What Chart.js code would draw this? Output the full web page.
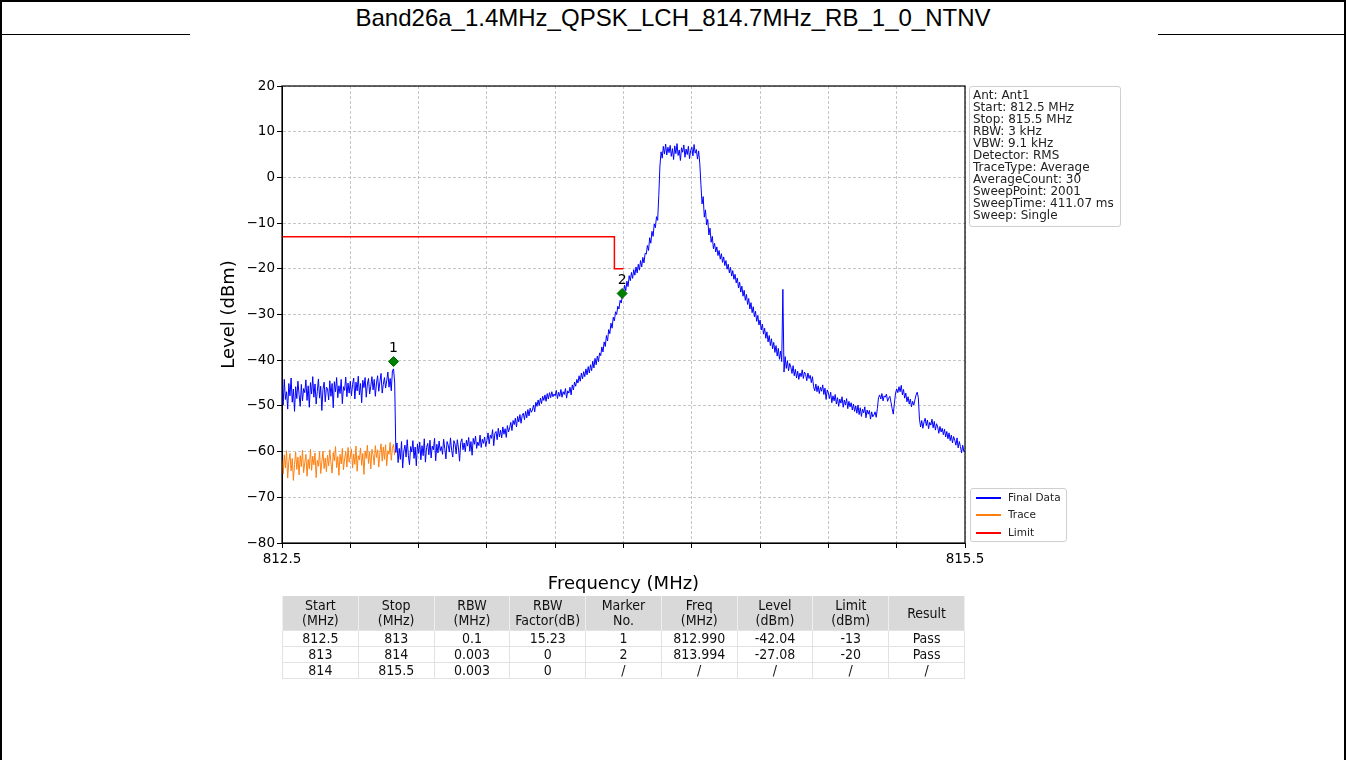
<!DOCTYPE html>
<html>
<head>
<meta charset="utf-8">
<title>Band26a spectrum</title>
<script src="https://cdn.jsdelivr.net/npm/chart.js@4.4.1/dist/chart.umd.min.js"></script>
<style>
  html, body { margin: 0; padding: 0; background: #fff; }
  #page { position: relative; width: 1346px; height: 760px; overflow: hidden; font-family: "Liberation Sans", Arial, sans-serif; }
  #frame { position: absolute; left: 0; top: 0; width: 1346px; height: 770px; box-sizing: border-box; border: 2px solid #000; }
  #title { position: absolute; left: 0; top: 2px; width: 1346px; height: 32px; line-height: 32px; text-align: center; font-size: 24px; color: #000; }
  .rule { position: absolute; top: 34px; height: 1px; background: #000; }
  #chart { position: absolute; left: 0; top: 0; }
  #info { position: absolute; left: 969px; top: 86px; width: 152px; height: 141px; box-sizing: border-box; border: 1px solid #cfcfcf; border-radius: 3px;
          padding: 2px 0 0 3px; font-family: "DejaVu Sans", sans-serif; font-size: 12px; line-height: 12px; color: #222; white-space: nowrap; }
  #legend { position: absolute; left: 970px; top: 488px; width: 97px; height: 54px; box-sizing: border-box; border: 1px solid #cfcfcf; border-radius: 3px;
            font-family: "DejaVu Sans", sans-serif; font-size: 10.5px; color: #222; }
  #legend div { position: absolute; left: 37px; height: 14px; line-height: 14px; white-space: nowrap; }
  #legend span { position: absolute; left: -32px; top: 7px; width: 25px; height: 1.5px; }
  #tbl { position: absolute; left: 282px; top: 596px; width: 683px; border-collapse: collapse; table-layout: fixed;
         font-family: "Liberation Sans Narrow", "DejaVu Sans Condensed", sans-serif; font-size: 14px; color: #111; }
  #tbl th { background: #d9d9d9; font-weight: normal; height: 34px; line-height: 15px; padding: 0; border-left: 1px solid #efefef; border-right: 1px solid #efefef; }
  #tbl td { height: 15px; line-height: 15px; padding: 0; text-align: center; border: 1px solid #e2e2e2; }
</style>
</head>
<body>
<div id="page">
  <div id="frame"></div>
  <div id="title">Band26a_1.4MHz_QPSK_LCH_814.7MHz_RB_1_0_NTNV</div>
  <div class="rule" style="left:0;width:190px"></div>
  <div class="rule" style="left:1158px;width:188px"></div>
  <canvas id="chart" width="1346" height="600"></canvas>
  <div id="info">Ant: Ant1<br>Start: 812.5 MHz<br>Stop: 815.5 MHz<br>RBW: 3 kHz<br>VBW: 9.1 kHz<br>Detector: RMS<br>TraceType: Average<br>AverageCount: 30<br>SweepPoint: 2001<br>SweepTime: 411.07 ms<br>Sweep: Single</div>
  <div id="legend">
    <div style="top:1px"><span style="background:#0000ff"></span>Final Data</div>
    <div style="top:18px"><span style="background:#ff7f0e"></span>Trace</div>
    <div style="top:36px"><span style="background:#ff0000"></span>Limit</div>
  </div>
  <table id="tbl">
    <colgroup><col><col><col><col><col><col><col><col><col></colgroup>
    <tr><th>Start<br>(MHz)</th><th>Stop<br>(MHz)</th><th>RBW<br>(MHz)</th><th>RBW<br>Factor(dB)</th><th>Marker<br>No.</th><th>Freq<br>(MHz)</th><th>Level<br>(dBm)</th><th>Limit<br>(dBm)</th><th>Result</th></tr>
    <tr><td>812.5</td><td>813</td><td>0.1</td><td>15.23</td><td>1</td><td>812.990</td><td>-42.04</td><td>-13</td><td>Pass</td></tr>
    <tr><td>813</td><td>814</td><td>0.003</td><td>0</td><td>2</td><td>813.994</td><td>-27.08</td><td>-20</td><td>Pass</td></tr>
    <tr><td>814</td><td>815.5</td><td>0.003</td><td>0</td><td>/</td><td>/</td><td>/</td><td>/</td><td>/</td></tr>
  </table>
</div>
<script>
// sweep span (MHz)
const sweepStart = 812.5;
const sweepStop = 815.5;

// Final Data, one row per 0.1 MHz, 0.005 MHz apart
const finalLevels = [
  -45.5,-49.8,-44.2,-48.6,-46.9,-50.7,-45.1,-47.8,-43.9,-49.2,-46.3,-51.2,-45.8,-48.4,-44.6,-47.5,-50.1,-45.3,-48.9,-46.2,
  -47.1,-44.3,-48.8,-45.6,-50.3,-44.9,-47.4,-43.6,-48.1,-45.2,-49.6,-46.8,-44.1,-48.3,-45.7,-51.0,-46.4,-44.8,-49.1,-45.9,
  -46.2,-48.7,-44.5,-47.9,-45.1,-50.4,-44.7,-46.9,-43.8,-48.2,-45.6,-47.3,-44.2,-49.5,-45.8,-46.6,-43.7,-48.0,-45.0,-47.2,
  -44.6,-47.8,-45.3,-43.9,-48.5,-44.8,-46.7,-43.5,-47.6,-45.1,-49.3,-44.4,-46.0,-43.8,-48.1,-45.2,-44.0,-47.4,-45.7,-43.6,
  -46.5,-44.2,-47.9,-45.0,-43.4,-46.8,-44.7,-42.9,-47.2,-45.3,-43.8,-46.1,-44.5,-42.6,-45.9,-44.0,-46.7,-42.3,-41.9,-45.0,
  -60.2,-58.1,-62.4,-59.3,-61.7,-57.8,-63.6,-59.9,-58.6,-61.2,-57.4,-60.8,-62.9,-58.9,-60.1,-57.6,-61.5,-59.0,-63.1,-58.3,
  -60.4,-57.9,-61.8,-58.7,-60.9,-57.2,-62.3,-59.1,-58.2,-60.7,-57.5,-61.4,-58.8,-59.6,-57.1,-62.0,-58.4,-60.3,-57.7,-59.8,
  -58.9,-60.6,-57.3,-59.4,-61.6,-57.8,-58.6,-60.1,-57.0,-59.7,-61.2,-57.6,-58.3,-60.5,-57.4,-59.2,-62.1,-58.0,-57.2,-59.6,
  -58.1,-60.0,-57.5,-58.8,-56.9,-59.9,-57.8,-60.8,-57.1,-58.4,-56.6,-59.3,-57.9,-58.7,-56.4,-59.1,-57.3,-58.2,-56.8,-58.9,
  -57.6,-55.9,-58.3,-56.4,-57.1,-55.2,-58.7,-56.0,-55.6,-57.4,-54.9,-56.8,-55.3,-57.0,-54.6,-56.2,-55.0,-56.9,-54.3,-55.7,
  -54.8,-53.6,-55.4,-53.2,-54.1,-52.7,-54.6,-52.3,-53.5,-51.9,-53.8,-52.1,-51.6,-53.0,-51.2,-52.6,-50.8,-52.2,-50.5,-51.4,
  -50.9,-49.8,-51.3,-49.2,-50.1,-48.7,-49.9,-48.3,-49.5,-47.9,-48.8,-47.6,-49.0,-47.3,-48.5,-47.1,-48.2,-46.9,-48.0,-47.4,
  -47.8,-46.6,-48.4,-47.0,-47.9,-46.4,-48.1,-46.9,-47.5,-46.2,-48.3,-46.7,-47.2,-45.9,-47.6,-45.4,-46.5,-44.8,-45.7,-44.2,
  -45.0,-43.4,-44.6,-42.8,-44.1,-42.5,-43.6,-41.9,-43.2,-41.4,-42.8,-41.0,-42.3,-40.2,-41.7,-39.6,-41.0,-39.1,-40.3,-38.4,
  -39.0,-37.1,-38.2,-36.0,-37.0,-34.6,-35.8,-33.3,-34.2,-31.9,-33.0,-30.6,-31.4,-29.4,-30.0,-28.2,-28.8,-26.9,-27.5,-25.9,
  -25.3,-23.6,-24.8,-22.7,-23.9,-21.5,-22.6,-20.8,-22.1,-20.2,-21.4,-19.6,-20.9,-19.0,-20.3,-18.2,-19.6,-17.5,-18.7,-16.6,
  -16.8,-14.9,-16.0,-13.2,-14.4,-11.8,-12.9,-10.2,-11.0,-8.6,-9.4,-4.0,2.5,5.6,4.2,6.8,5.1,7.3,4.9,6.6,
  5.4,7.0,4.6,6.3,3.9,6.9,5.2,7.4,4.8,6.0,3.7,6.5,5.5,7.1,4.4,6.2,5.0,6.8,4.1,5.9,
  6.6,4.7,7.2,5.3,6.1,4.0,5.8,3.1,-1.5,-5.8,-4.2,-8.7,-7.1,-10.4,-9.2,-12.6,-11.1,-14.2,-12.9,-15.6,
  -14.4,-16.3,-15.2,-17.1,-16.0,-17.9,-16.7,-18.6,-17.4,-19.3,-18.2,-20.1,-19.0,-20.9,-19.7,-21.6,-20.4,-22.3,-21.2,-23.1,
  -22.0,-24.2,-22.9,-25.1,-23.8,-26.0,-24.7,-26.9,-25.6,-27.8,-26.5,-28.8,-27.4,-29.6,-28.3,-30.5,-29.3,-31.5,-30.2,-32.3,
  -31.2,-33.4,-32.1,-34.3,-33.0,-35.2,-33.8,-36.0,-34.6,-36.8,-35.3,-37.5,-36.1,-38.3,-36.8,-39.1,-37.4,-39.8,-38.0,-40.3,
  -24.5,-42.6,-39.2,-41.8,-40.1,-42.3,-40.7,-41.5,-42.9,-41.2,-43.4,-42.0,-43.9,-42.4,-44.2,-42.8,-43.6,-42.1,-44.0,-42.6,
  -43.1,-44.5,-42.8,-44.0,-43.3,-44.9,-43.6,-45.8,-46.7,-45.2,-46.9,-45.6,-47.3,-45.9,-46.8,-45.4,-47.5,-46.1,-48.6,-46.5,
  -47.2,-48.4,-47.0,-49.3,-47.8,-48.9,-47.5,-49.6,-48.2,-50.1,-48.5,-49.4,-48.0,-50.3,-48.7,-49.8,-48.4,-50.6,-49.0,-50.2,
  -49.3,-50.9,-49.6,-51.2,-50.0,-51.6,-49.8,-51.9,-50.4,-52.3,-50.7,-51.5,-50.2,-52.6,-50.9,-51.8,-51.0,-52.9,-51.3,-52.4,
  -52.0,-51.3,-52.5,-50.6,-48.2,-47.6,-48.5,-47.3,-48.9,-47.8,-48.1,-47.4,-49.0,-48.3,-47.9,-49.2,-50.6,-51.8,-49.4,-47.2,
  -46.3,-47.1,-45.8,-46.9,-45.5,-47.6,-46.4,-48.3,-47.2,-49.1,-48.0,-49.6,-48.5,-50.2,-49.0,-49.8,-48.7,-47.6,-47.0,-48.2,
  -52.9,-54.6,-53.2,-54.9,-53.5,-52.7,-54.3,-53.1,-55.0,-53.6,-54.2,-52.9,-54.8,-53.4,-55.3,-53.9,-54.6,-56.0,-54.5,-55.7,
  -54.9,-56.3,-55.1,-56.8,-55.6,-57.2,-55.9,-57.6,-56.4,-58.1,-56.7,-57.5,-58.6,-57.0,-59.2,-57.8,-58.9,-60.3,-58.6,-60.0,
  -59.8
];

// Trace (RBW 0.1 MHz segment), 812.5 .. 812.995
const traceLevels = [
  -61.8,-64.9,-60.7,-63.6,-59.8,-65.8,-62.1,-60.4,-64.2,-61.5,-66.3,-62.8,-60.1,-63.9,-61.2,-65.1,-60.9,-63.3,-59.7,-64.6,
  -62.4,-60.6,-65.4,-61.7,-63.8,-59.5,-64.1,-61.0,-62.9,-60.3,-65.7,-61.9,-63.2,-60.0,-64.8,-62.2,-59.9,-63.7,-61.4,-64.4,
  -60.8,-63.1,-59.6,-62.5,-64.7,-60.2,-62.0,-58.9,-63.5,-61.1,-65.2,-60.6,-62.7,-59.3,-64.0,-61.6,-60.0,-63.4,-59.1,-62.3,
  -61.0,-59.4,-63.6,-60.5,-62.8,-58.8,-64.3,-60.9,-61.8,-59.2,-63.0,-60.4,-65.0,-59.9,-61.5,-58.6,-62.6,-60.1,-63.8,-59.5,
  -60.7,-62.9,-58.7,-61.3,-59.6,-63.4,-60.2,-58.3,-62.1,-59.0,-61.7,-58.5,-63.1,-59.8,-60.6,-58.0,-61.9,-59.3,-58.4,-60.8
];

// limit line
const limitFreqs = [812.5, 813.96, 813.96, 814.0];
const limitLevels = [-13, -13, -20, -20];

// markers as drawn on the plot
const markerFreqs = [812.990, 813.994];
const markerLevels = [-40.3, -25.4];
const markerNames = ['1', '2'];

// ticks
const xTickValues = [812.5, 812.8, 813.1, 813.4, 813.7, 814.0, 814.3, 814.6, 814.9, 815.2, 815.5];
const yTickValues = [-80, -70, -60, -50, -40, -30, -20, -10, 0, 10, 20];

const step = (sweepStop - sweepStart) / (finalLevels.length - 1);
const toPoints = (levels) => levels.map((v, i) => ({ x: sweepStart + i * step, y: v }));

Chart.defaults.font.family = '"DejaVu Sans", sans-serif';
Chart.defaults.color = '#000';

// box round the plot + marker numbers
const frameAndLabels = {
  id: 'frameAndLabels',
  afterDatasetsDraw(chart) {
    const { ctx, chartArea: a, scales: { x, y } } = chart;
    ctx.save();
    ctx.strokeStyle = '#000';
    ctx.lineWidth = 1.2;
    ctx.strokeRect(a.left, a.top, a.right - a.left, a.bottom - a.top);
    ctx.fillStyle = '#000';
    ctx.font = '14px "DejaVu Sans"';
    ctx.textAlign = 'center';
    ctx.textBaseline = 'bottom';
    markerNames.forEach((n, i) => {
      ctx.fillText(n, x.getPixelForValue(markerFreqs[i]), y.getPixelForValue(markerLevels[i]) - 6);
    });
    ctx.restore();
  }
};

const gridOpts = { color: '#b8b8b8', lineWidth: 0.8, tickColor: '#000', tickLength: 5, tickWidth: 1 };
const borderOpts = { display: true, color: '#000', width: 1, dash: [3, 2] };

new Chart(document.getElementById('chart'), {
  type: 'line',
  data: {
    datasets: [
      {
        label: 'Marker',
        data: markerFreqs.map((f, i) => ({ x: f, y: markerLevels[i] })),
        showLine: false,
        pointStyle: 'rectRot',
        pointRadius: 5,
        pointBackgroundColor: '#008000',
        pointBorderColor: '#006400',
        pointBorderWidth: 1
      },
      {
        label: 'Limit',
        data: limitFreqs.map((f, i) => ({ x: f, y: limitLevels[i] })),
        borderColor: '#ff0000',
        borderWidth: 1.5,
        pointRadius: 0
      },
      {
        label: 'Final Data',
        data: toPoints(finalLevels),
        borderColor: '#0000ff',
        borderWidth: 1,
        pointRadius: 0
      },
      {
        label: 'Trace',
        data: toPoints(traceLevels),
        borderColor: '#ff7f0e',
        borderWidth: 1,
        pointRadius: 0
      }
    ]
  },
  options: {
    responsive: false,
    animation: false,
    events: [],
    layout: { padding: { left: 213, top: 86, right: 381, bottom: 1 } },
    elements: { line: { tension: 0 } },
    plugins: { legend: { display: false }, tooltip: { enabled: false } },
    scales: {
      x: {
        type: 'linear',
        min: sweepStart,
        max: sweepStop,
        afterBuildTicks: (s) => { s.ticks = xTickValues.map(v => ({ value: v })); },
        afterFit: (s) => { s.height = 56; },
        ticks: {
          autoSkip: false,
          maxRotation: 0,
          padding: 3,
          font: { size: 13.5 },
          callback: (v, i, t) => (i === 0 || i === t.length - 1) ? Number(v).toFixed(1) : ''
        },
        grid: gridOpts,
        border: borderOpts,
        title: { display: true, text: 'Frequency (MHz)', font: { size: 18 }, padding: { top: 4, bottom: 4 } }
      },
      y: {
        min: -80,
        max: 20,
        afterBuildTicks: (s) => { s.ticks = yTickValues.map(v => ({ value: v })); },
        afterFit: (s) => { s.width = 69; },
        ticks: {
          padding: 2,
          font: { size: 13.5 },
          callback: (v) => String(v).replace('-', '\u2212')
        },
        grid: gridOpts,
        border: borderOpts,
        title: { display: true, text: 'Level (dBm)', font: { size: 18 }, padding: { top: 6, bottom: 4 } }
      }
    }
  },
  plugins: [frameAndLabels]
});
</script>
</body>
</html>
